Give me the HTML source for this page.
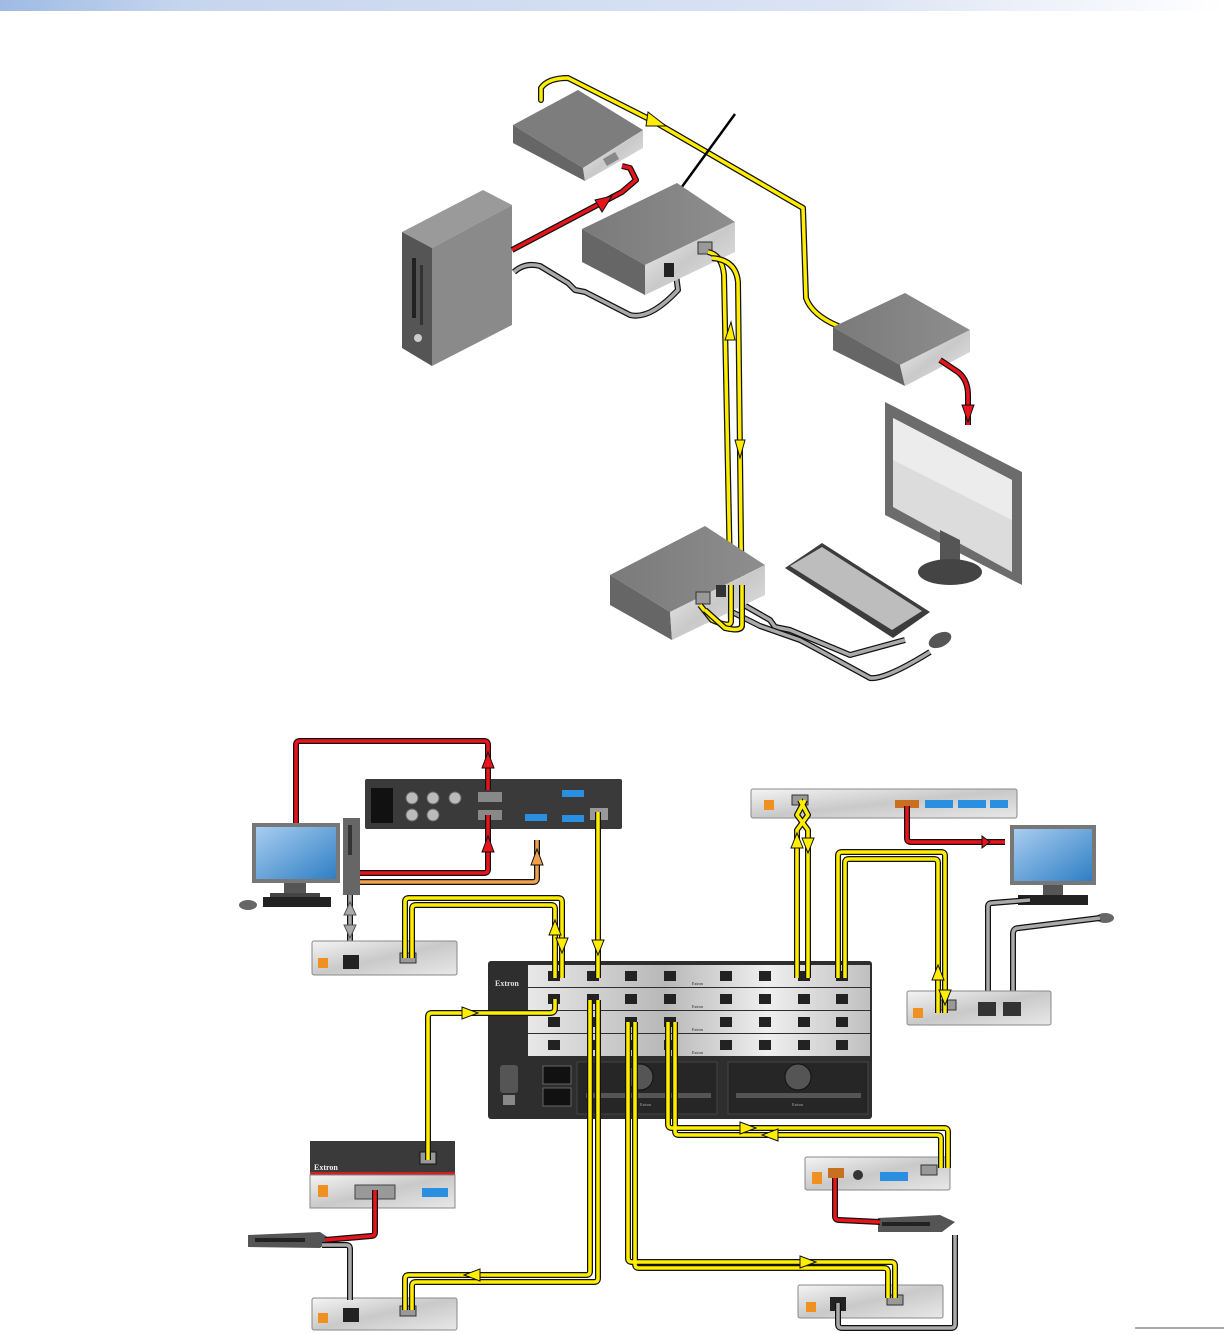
<!DOCTYPE html>
<html><head><meta charset="utf-8"><style>
html,body{margin:0;padding:0;background:#fff;}
svg{display:block;font-family:"Liberation Serif",serif;}
</style></head><body>
<svg width="1224" height="1334" viewBox="0 0 1224 1334" xmlns="http://www.w3.org/2000/svg">
<defs>
<linearGradient id="topbar" x1="0" x2="1" y1="0" y2="0"><stop offset="0" stop-color="#9ebbe3"/><stop offset="0.15" stop-color="#c6d5ee"/><stop offset="0.7" stop-color="#dce4f4"/><stop offset="1" stop-color="#ffffff"/></linearGradient>
<linearGradient id="silver" x1="0" x2="1" y1="0" y2="1"><stop offset="0" stop-color="#f4f4f4"/><stop offset="0.5" stop-color="#c9c9c9"/><stop offset="1" stop-color="#e8e8e8"/></linearGradient>
<linearGradient id="card" x1="0" x2="1" y1="0" y2="0"><stop offset="0" stop-color="#e8e8e8"/><stop offset="0.4" stop-color="#b8b8b8"/><stop offset="0.7" stop-color="#efefef"/><stop offset="1" stop-color="#c0c0c0"/></linearGradient>
<linearGradient id="scr" x1="0" x2="1" y1="0" y2="1"><stop offset="0" stop-color="#a8cdf0"/><stop offset="1" stop-color="#2f7fc4"/></linearGradient>
<linearGradient id="gtop" x1="0" x2="1"><stop offset="0" stop-color="#7a7a7a"/><stop offset="1" stop-color="#8e8e8e"/></linearGradient>
</defs>
<rect x="0" y="0" width="1224" height="11" fill="url(#topbar)"/>

<g fill="none" stroke-linejoin="round" stroke-linecap="round">
<path d="M541,100 L541,88 Q548,78 568,78 L655,122 L803,208 L806,298 Q812,315 838,326" stroke="#111" stroke-width="6"/>
<path d="M541,100 L541,88 Q548,78 568,78 L655,122 L803,208 L806,298 Q812,315 838,326" stroke="#ffee00" stroke-width="3.5"/>
</g>
<polygon points="648,112 666,126 646,126" fill="#ffee00" stroke="#111" stroke-width="1"/>

<polygon points="513,125 578,90 643,130 583,168" fill="#7d7d7d"/>
<polygon points="513,125 583,168 585,181 513,143" fill="#666"/>
<polygon points="583,168 643,130 643,148 585,181" fill="url(#silver)"/>
<rect x="604" y="155" width="14" height="8" fill="#888" transform="rotate(-30 611 159)"/>

<line x1="735" y1="114" x2="676" y2="195" stroke="#000" stroke-width="2.5"/>

<polygon points="402,232 483,190 512,205 432,248" fill="#9a9a9a"/>
<polygon points="402,232 432,248 432,366 402,348" fill="#555"/>
<polygon points="432,248 512,205 512,325 432,366" fill="#8a8a8a"/>
<rect x="412" y="258" width="4" height="60" fill="#222"/>
<rect x="420" y="265" width="3" height="60" fill="#333"/>
<circle cx="418" cy="338" r="4" fill="#ccc"/>

<g fill="none" stroke-linejoin="round">
<path d="M512,250 L622,192 L636,180 L630,168 L622,166" stroke="#111" stroke-width="6"/>
<path d="M512,250 L622,192 L636,180 L630,168 L622,166" stroke="#e8141c" stroke-width="3.5"/>
</g>
<polygon points="595,200 612,196 602,212" fill="#e8141c" stroke="#111" stroke-width="1"/>

<g fill="none" stroke-linejoin="round">
<path d="M514,272 Q525,262 540,266 L568,283 L575,290 L585,292 L630,315 Q650,320 678,290 L676,275" stroke="#111" stroke-width="6"/>
<path d="M514,272 Q525,262 540,266 L568,283 L575,290 L585,292 L630,315 Q650,320 678,290 L676,275" stroke="#aaa" stroke-width="3.5"/>
</g>

<polygon points="582,229 677,183 735,222 645,265" fill="url(#gtop)"/>
<polygon points="582,229 645,265 645,295 582,262" fill="#666"/>
<polygon points="645,265 735,222 735,252 645,295" fill="url(#silver)"/>
<rect x="664" y="263" width="10" height="14" fill="#222"/>
<rect x="698" y="242" width="14" height="12" fill="#999" stroke="#333"/>

<g fill="none" stroke-linejoin="round">
<path d="M708,252 Q722,255 724,275 L731,622" stroke="#111" stroke-width="6"/>
<path d="M708,252 Q722,255 724,275 L731,622" stroke="#ffee00" stroke-width="3.5"/>
<path d="M712,258 Q736,260 738,282 L742,625 Q742,632 725,628 L705,610" stroke="#111" stroke-width="6"/>
<path d="M712,258 Q736,260 738,282 L742,625 Q742,632 725,628 L705,610" stroke="#ffee00" stroke-width="3.5"/>
</g>
<polygon points="725,340 731,322 735,340" fill="#ffee00" stroke="#111" stroke-width="1"/>
<polygon points="735,440 745,440 740,458" fill="#ffee00" stroke="#111" stroke-width="1"/>

<polygon points="833,327 905,293 970,330 900,365" fill="url(#gtop)"/>
<polygon points="833,327 900,365 905,386 833,350" fill="#666"/>
<polygon points="900,365 970,330 970,352 905,386" fill="url(#silver)"/>
<g fill="none" stroke-linejoin="round">
<path d="M940,360 L958,372 Q968,380 968,395 L968,425" stroke="#111" stroke-width="6"/>
<path d="M940,360 L958,372 Q968,380 968,395 L968,425" stroke="#e8141c" stroke-width="3.5"/>
</g>
<polygon points="962,405 974,405 968,422" fill="#e8141c" stroke="#111" stroke-width="1"/>

<polygon points="885,402 1022,472 1022,585 885,515" fill="#6c6c6c"/>
<polygon points="893,418 1012,480 1012,572 893,507" fill="#dcdcdc"/>
<polygon points="893,418 1012,480 1012,520 893,460" fill="#ececec"/>
<polygon points="940,530 960,540 960,570 940,560" fill="#555"/>
<ellipse cx="950" cy="572" rx="32" ry="13" fill="#444"/>

<polygon points="785,568 822,543 930,612 893,638" fill="#3c3c3c"/>
<polygon points="790,566 822,547 922,611 892,630" fill="#bdbdbd"/>

<g fill="none" stroke-linejoin="round">
<path d="M735,600 L770,620 L775,627 L790,630 L850,655 L905,640" stroke="#111" stroke-width="6"/>
<path d="M735,600 L770,620 L775,627 L790,630 L850,655 L905,640" stroke="#aaa" stroke-width="3.5"/>
<path d="M732,612 L760,626 L800,640 L815,648 L870,678 Q885,680 930,652" stroke="#111" stroke-width="6"/>
<path d="M732,612 L760,626 L800,640 L815,648 L870,678 Q885,680 930,652" stroke="#aaa" stroke-width="3.5"/>
</g>
<ellipse cx="940" cy="640" rx="12" ry="7" fill="#555" transform="rotate(-25 940 640)"/>

<polygon points="610,575 705,526 765,565 670,612" fill="url(#gtop)"/>
<polygon points="610,575 670,612 672,640 610,605" fill="#666"/>
<polygon points="670,612 765,565 765,595 672,640" fill="url(#silver)"/>
<rect x="696" y="592" width="14" height="12" fill="#999" stroke="#333"/>
<rect x="716" y="585" width="10" height="12" fill="#333"/>
<g fill="none"><path d="M731,585 L731,622 Q730,628 712,620 L700,605" stroke="#111" stroke-width="6"/><path d="M731,585 L731,622 Q730,628 712,620 L700,605" stroke="#ffee00" stroke-width="3.5"/>
<path d="M742,585 L742,625 Q742,632 725,628 L705,610" stroke="#111" stroke-width="6"/><path d="M742,585 L742,625 Q742,632 725,628 L705,610" stroke="#ffee00" stroke-width="3.5"/></g>

<rect x="488" y="961" width="384" height="158" rx="3" fill="#2e2e2e"/>
<rect x="528" y="965" width="342" height="22" fill="url(#card)"/>
<rect x="528" y="988" width="342" height="22" fill="url(#card)"/>
<rect x="528" y="1011" width="342" height="22" fill="url(#card)"/>
<rect x="528" y="1034" width="342" height="22" fill="url(#card)"/>
<text x="495" y="986" font-size="8" fill="#ddd" font-weight="bold">Extron</text>
<g fill="#222">
<rect x="548" y="971" width="12" height="10"/><rect x="587" y="971" width="12" height="10"/><rect x="625" y="971" width="12" height="10"/><rect x="664" y="971" width="12" height="10"/><rect x="720" y="971" width="12" height="10"/><rect x="759" y="971" width="12" height="10"/><rect x="798" y="971" width="12" height="10"/><rect x="836" y="971" width="12" height="10"/>
<rect x="548" y="994" width="12" height="10"/><rect x="587" y="994" width="12" height="10"/><rect x="625" y="994" width="12" height="10"/><rect x="664" y="994" width="12" height="10"/><rect x="720" y="994" width="12" height="10"/><rect x="759" y="994" width="12" height="10"/><rect x="798" y="994" width="12" height="10"/><rect x="836" y="994" width="12" height="10"/>
<rect x="548" y="1017" width="12" height="10"/><rect x="587" y="1017" width="12" height="10"/><rect x="625" y="1017" width="12" height="10"/><rect x="664" y="1017" width="12" height="10"/><rect x="720" y="1017" width="12" height="10"/><rect x="759" y="1017" width="12" height="10"/><rect x="798" y="1017" width="12" height="10"/><rect x="836" y="1017" width="12" height="10"/>
<rect x="548" y="1040" width="12" height="10"/><rect x="587" y="1040" width="12" height="10"/><rect x="625" y="1040" width="12" height="10"/><rect x="664" y="1040" width="12" height="10"/><rect x="720" y="1040" width="12" height="10"/><rect x="759" y="1040" width="12" height="10"/><rect x="798" y="1040" width="12" height="10"/><rect x="836" y="1040" width="12" height="10"/>
</g>
<g font-size="4" fill="#222"><text x="692" y="985">Extron</text><text x="692" y="1008">Extron</text><text x="692" y="1031">Extron</text><text x="692" y="1054">Extron</text></g>
<rect x="500" y="1065" width="18" height="28" rx="3" fill="#555"/>
<rect x="503" y="1095" width="12" height="10" fill="#888"/>
<rect x="543" y="1066" width="28" height="18" fill="#111" stroke="#666"/>
<rect x="543" y="1088" width="28" height="18" fill="#111" stroke="#666"/>
<rect x="577" y="1062" width="140" height="52" fill="#262626" stroke="#444"/>
<rect x="728" y="1062" width="140" height="52" fill="#262626" stroke="#444"/>
<circle cx="640" cy="1077" r="13" fill="#555" stroke="#111"/>
<circle cx="798" cy="1077" r="13" fill="#555" stroke="#111"/>
<rect x="586" y="1093" width="125" height="5" fill="#555"/>
<rect x="736" y="1093" width="125" height="5" fill="#555"/>
<text x="640" y="1106" font-size="4" fill="#aaa">Extron</text>
<text x="792" y="1106" font-size="4" fill="#aaa">Extron</text>

<rect x="365" y="779" width="257" height="50" rx="2" fill="#3a3a3a"/>
<rect x="371" y="788" width="22" height="35" fill="#111"/>
<g fill="#bbb" stroke="#666"><circle cx="412" cy="798" r="6"/><circle cx="433" cy="798" r="6"/><circle cx="455" cy="798" r="6"/><circle cx="412" cy="815" r="6"/><circle cx="433" cy="815" r="6"/></g>
<rect x="478" y="792" width="24" height="10" fill="#888"/><rect x="478" y="810" width="24" height="10" fill="#888"/>
<rect x="525" y="814" width="22" height="7" fill="#2a8fe0"/><rect x="562" y="790" width="22" height="7" fill="#2a8fe0"/><rect x="562" y="815" width="22" height="7" fill="#2a8fe0"/>
<rect x="590" y="808" width="18" height="12" fill="#999"/>

<rect x="252" y="823" width="88" height="60" fill="#777"/>
<rect x="256" y="827" width="80" height="52" fill="url(#scr)"/>
<rect x="284" y="883" width="22" height="10" fill="#555"/>
<rect x="270" y="893" width="50" height="4" fill="#444"/>
<rect x="263" y="897" width="68" height="10" fill="#222"/>
<ellipse cx="248" cy="905" rx="9" ry="5" fill="#666"/>
<rect x="343" y="818" width="17" height="77" fill="#666"/>
<rect x="348" y="825" width="4" height="30" fill="#333"/>

<g fill="none" stroke-linejoin="round">
<path d="M296,823 L296,745 Q296,741 300,741 L484,741 Q488,741 488,745 L488,790" stroke="#111" stroke-width="6"/>
<path d="M296,823 L296,745 Q296,741 300,741 L484,741 Q488,741 488,745 L488,790" stroke="#e8141c" stroke-width="3.5"/>
<path d="M360,873 L484,873 Q488,873 488,869 L488,815" stroke="#111" stroke-width="6"/>
<path d="M360,873 L484,873 Q488,873 488,869 L488,815" stroke="#e8141c" stroke-width="3.5"/>
<path d="M360,882 L533,882 Q537,882 537,878 L537,840" stroke="#111" stroke-width="6"/>
<path d="M360,882 L533,882 Q537,882 537,878 L537,840" stroke="#f0a050" stroke-width="3.5"/>
<path d="M350,895 L350,948" stroke="#111" stroke-width="6"/><path d="M350,895 L350,948" stroke="#aaa" stroke-width="3.5"/>
</g>
<polygon points="482,768 494,768 488,752" fill="#e8141c" stroke="#111"/>
<polygon points="482,852 494,852 488,836" fill="#e8141c" stroke="#111"/>
<polygon points="531,865 543,865 537,849" fill="#f0a050" stroke="#111"/>
<polygon points="344,915 356,915 350,902" fill="#aaa" stroke="#555"/>
<polygon points="344,925 356,925 350,938" fill="#aaa" stroke="#555"/>

<rect x="312" y="941" width="145" height="34" rx="2" fill="url(#silver)" stroke="#888"/>
<rect x="318" y="958" width="10" height="10" fill="#f09020"/>
<rect x="343" y="955" width="16" height="14" fill="#222"/>
<rect x="400" y="953" width="16" height="10" fill="#999" stroke="#333"/>

<rect x="751" y="789" width="266" height="29" rx="2" fill="url(#silver)" stroke="#888"/>
<rect x="764" y="800" width="10" height="10" fill="#f09020"/>
<rect x="792" y="795" width="16" height="10" fill="#999" stroke="#333"/>
<rect x="895" y="800" width="24" height="8" fill="#c87020"/>
<rect x="925" y="800" width="28" height="8" fill="#2a8fe0"/><rect x="958" y="800" width="28" height="8" fill="#2a8fe0"/><rect x="990" y="800" width="18" height="8" fill="#2a8fe0"/>

<rect x="1010" y="825" width="86" height="60" fill="#777"/>
<rect x="1014" y="829" width="78" height="52" fill="url(#scr)"/>
<rect x="1043" y="885" width="20" height="10" fill="#555"/>
<rect x="1018" y="895" width="70" height="10" fill="#222"/>
<ellipse cx="1105" cy="918" rx="9" ry="5" fill="#666"/>
<g fill="none" stroke-linejoin="round">
<path d="M907,806 L907,838 Q907,842 911,842 L1005,842" stroke="#111" stroke-width="6"/>
<path d="M907,806 L907,838 Q907,842 911,842 L1005,842" stroke="#e8141c" stroke-width="3.5"/>
<path d="M988,1000 L988,907 Q988,903 992,903 L1030,900" stroke="#111" stroke-width="6"/><path d="M988,1000 L988,907 Q988,903 992,903 L1030,900" stroke="#aaa" stroke-width="3.5"/>
<path d="M1013,1000 L1013,934 Q1013,928 1019,928 L1100,918" stroke="#111" stroke-width="6"/><path d="M1013,1000 L1013,934 Q1013,928 1019,928 L1100,918" stroke="#aaa" stroke-width="3.5"/>
</g>
<polygon points="982,836 990,842 982,848" fill="#e8141c" stroke="#111"/>

<rect x="907" y="991" width="144" height="34" rx="2" fill="url(#silver)" stroke="#888"/>
<rect x="913" y="1008" width="10" height="10" fill="#f09020"/>
<rect x="940" y="1000" width="16" height="10" fill="#999" stroke="#333"/>
<rect x="978" y="1002" width="18" height="14" fill="#333"/><rect x="1003" y="1002" width="18" height="14" fill="#333"/>

<rect x="310" y="1141" width="145" height="34" fill="#3a3a3a"/>
<rect x="310" y="1172" width="145" height="3" fill="#c22"/>
<text x="314" y="1170" font-size="8" fill="#eee" font-weight="bold">Extron</text>
<rect x="420" y="1152" width="16" height="12" fill="#999" stroke="#111"/>
<rect x="310" y="1175" width="145" height="33" fill="url(#silver)" stroke="#888"/>
<rect x="318" y="1185" width="10" height="12" fill="#f09020"/>
<rect x="355" y="1185" width="40" height="14" fill="#999" stroke="#444"/>
<rect x="422" y="1188" width="26" height="9" fill="#2a8fe0"/>
<polygon points="248,1235 320,1232 332,1240 320,1248 248,1247" fill="#555"/>
<rect x="255" y="1238" width="50" height="4" fill="#222"/>
<rect x="312" y="1298" width="145" height="32" rx="2" fill="url(#silver)" stroke="#888"/>
<rect x="318" y="1313" width="10" height="10" fill="#f09020"/>
<rect x="343" y="1308" width="16" height="14" fill="#222"/>
<rect x="400" y="1306" width="16" height="10" fill="#999" stroke="#333"/>

<rect x="805" y="1157" width="145" height="33" rx="2" fill="url(#silver)" stroke="#888"/>
<rect x="812" y="1172" width="10" height="12" fill="#f09020"/>
<rect x="828" y="1168" width="16" height="10" fill="#c87020"/>
<circle cx="858" cy="1175" r="5" fill="#333"/>
<rect x="880" y="1172" width="28" height="9" fill="#2a8fe0"/>
<rect x="921" y="1165" width="16" height="10" fill="#999" stroke="#333"/>
<polygon points="878,1218 940,1215 955,1222 942,1232 878,1232" fill="#555"/>
<rect x="882" y="1222" width="48" height="4" fill="#222"/>
<rect x="798" y="1285" width="145" height="33" rx="2" fill="url(#silver)" stroke="#888"/>
<rect x="806" y="1302" width="10" height="10" fill="#f09020"/>
<rect x="830" y="1297" width="16" height="14" fill="#222"/>
<rect x="887" y="1295" width="16" height="10" fill="#999" stroke="#333"/>

<g fill="none" stroke-linejoin="round">
<path d="M375,1190 L375,1232 Q375,1236 371,1236 L325,1240" stroke="#111" stroke-width="6"/><path d="M375,1190 L375,1232 Q375,1236 371,1236 L325,1240" stroke="#e8141c" stroke-width="3.5"/>
<path d="M322,1245 L346,1245 Q350,1245 350,1249 L350,1300" stroke="#111" stroke-width="6"/><path d="M322,1245 L346,1245 Q350,1245 350,1249 L350,1300" stroke="#aaa" stroke-width="3.5"/>
<path d="M835,1178 L835,1216 Q835,1220 839,1220 L880,1222" stroke="#111" stroke-width="6"/><path d="M835,1178 L835,1216 Q835,1220 839,1220 L880,1222" stroke="#e8141c" stroke-width="3.5"/>
<path d="M955,1235 L955,1324 Q955,1328 951,1328 L842,1328 Q838,1328 838,1324 L838,1303" stroke="#111" stroke-width="6"/><path d="M955,1235 L955,1324 Q955,1328 951,1328 L842,1328 Q838,1328 838,1324 L838,1303" stroke="#aaa" stroke-width="3.5"/>
</g>

<g fill="none" stroke-linejoin="round">
<path id="y1" d="M405,958 L405,902 Q405,898 409,898 L558,898 Q562,898 562,902 L562,978"/>
<path id="y2" d="M412,958 L412,909 Q412,905 416,905 L551,905 Q555,905 555,909 L555,978"/>
<path id="y3" d="M598,812 L598,978"/>
<path id="y4" d="M555,999 L555,1008 Q555,1013 550,1013 L432,1013 Q428,1013 428,1017 L428,1160"/>
<path id="y5" d="M405,1310 L405,1279 Q405,1275 409,1275 L586,1275 Q590,1275 590,1271 L590,1000"/>
<path id="y6" d="M412,1310 L412,1286 Q412,1282 416,1282 L594,1282 Q598,1282 598,1278 L598,1000"/>
<path id="y7" d="M668,1022 L668,1124 Q668,1128 672,1128 L944,1128 Q948,1128 948,1132 L948,1168"/>
<path id="y8" d="M675,1022 L675,1131 Q675,1135 679,1135 L937,1135 Q941,1135 941,1139 L941,1168"/>
<path id="y9" d="M628,1022 L628,1258 Q628,1262 632,1262 L891,1262 Q895,1262 895,1266 L895,1298"/>
<path id="y10" d="M635,1022 L635,1264 Q635,1268 639,1268 L884,1268 Q888,1268 888,1272 L888,1298"/>
<path id="y11" d="M797,978 L797,830 L808,815 L800,800"/>
<path id="y12" d="M808,978 L808,830 L797,815 L805,800"/>
<path id="y13" d="M838,978 L838,856 Q838,852 842,852 L941,852 Q945,852 945,856 L945,1013"/>
<path id="y14" d="M845,978 L845,863 Q845,859 849,859 L934,859 Q938,859 938,863 L938,1013"/>
</g>
<g fill="none" stroke="#111" stroke-width="6" stroke-linejoin="round">
<use href="#y1"/><use href="#y2"/><use href="#y3"/><use href="#y4"/><use href="#y5"/><use href="#y6"/><use href="#y7"/><use href="#y8"/><use href="#y9"/><use href="#y10"/><use href="#y11"/><use href="#y12"/><use href="#y13"/><use href="#y14"/>
</g>
<g fill="none" stroke="#ffee00" stroke-width="3.5" stroke-linejoin="round">
<use href="#y1"/><use href="#y2"/><use href="#y3"/><use href="#y4"/><use href="#y5"/><use href="#y6"/><use href="#y7"/><use href="#y8"/><use href="#y9"/><use href="#y10"/><use href="#y11"/><use href="#y12"/><use href="#y13"/><use href="#y14"/>
</g>
<g fill="#ffee00" stroke="#111" stroke-width="1">
<polygon points="549,935 561,935 555,920"/><polygon points="556,938 568,938 562,953"/>
<polygon points="592,940 604,940 598,955"/>
<polygon points="462,1007 478,1013 462,1019"/>
<polygon points="480,1269 464,1275 480,1281"/>
<polygon points="791,848 803,848 797,833"/><polygon points="802,838 814,838 808,853"/>
<polygon points="932,980 944,980 938,965"/><polygon points="939,990 951,990 945,1005"/>
<polygon points="740,1122 756,1128 740,1134"/><polygon points="778,1129 762,1135 778,1141"/>
<polygon points="800,1256 816,1262 800,1268"/>
</g>
<line x1="1135" y1="1328" x2="1224" y2="1328" stroke="#555" stroke-width="1"/>
</svg>
</body></html>
